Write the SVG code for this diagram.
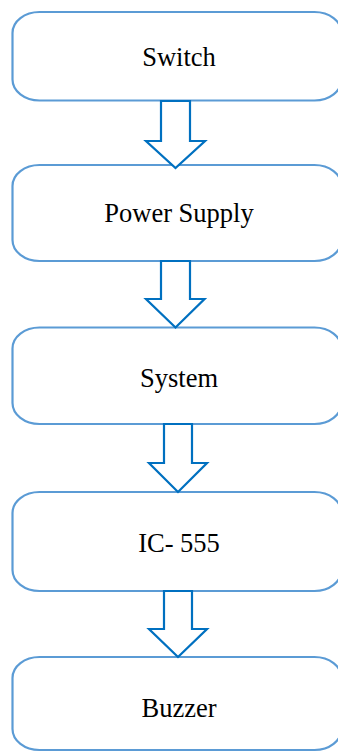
<svg xmlns="http://www.w3.org/2000/svg" width="338" height="752" viewBox="0 0 338 752">
<style>
.box{fill:#ffffff;stroke:#5B9BD5;stroke-width:2.2}
.arr{fill:#ffffff;stroke:#0070C0;stroke-width:2.2;stroke-linejoin:miter}
.lbl{font-family:"Liberation Serif","Times New Roman",serif;font-size:26.5px;fill:#000000;text-anchor:middle}
</style>
<rect width="338" height="752" fill="#ffffff"/>
<g id="node-switch"><rect class="box" x="12.5" y="12" width="329" height="88.5" rx="27" ry="21"/><text class="lbl" x="179" y="66">Switch</text></g>
<g id="node-power"><rect class="box" x="12.5" y="165" width="329" height="96" rx="27" ry="21"/><text class="lbl" x="179" y="222">Power Supply</text></g>
<g id="node-system"><rect class="box" x="12.5" y="327.5" width="329" height="96.5" rx="27" ry="21"/><text class="lbl" x="179" y="387">System</text></g>
<g id="node-ic"><rect class="box" x="12.5" y="492" width="329" height="99" rx="27" ry="21"/><text class="lbl" x="179" y="552">IC- 555</text></g>
<g id="node-buzzer"><rect class="box" x="12.5" y="657" width="329" height="93" rx="27" ry="21"/><text class="lbl" x="179" y="717">Buzzer</text></g>
<g id="connectors">
<polygon class="arr" points="161,101 190,101 190,141 205,141 175.5,168 146,141 161,141"/>
<polygon class="arr" points="161,261 190,261 190,299 204.5,299 175.5,327.5 146,299 161,299"/>
<polygon class="arr" points="164,424 192,424 192,463 207,463 178,492 149,463 164,463"/>
<polygon class="arr" points="164,591 192,591 192,629 207,629 178,657 149,629 164,629"/>
</g>
</svg>
